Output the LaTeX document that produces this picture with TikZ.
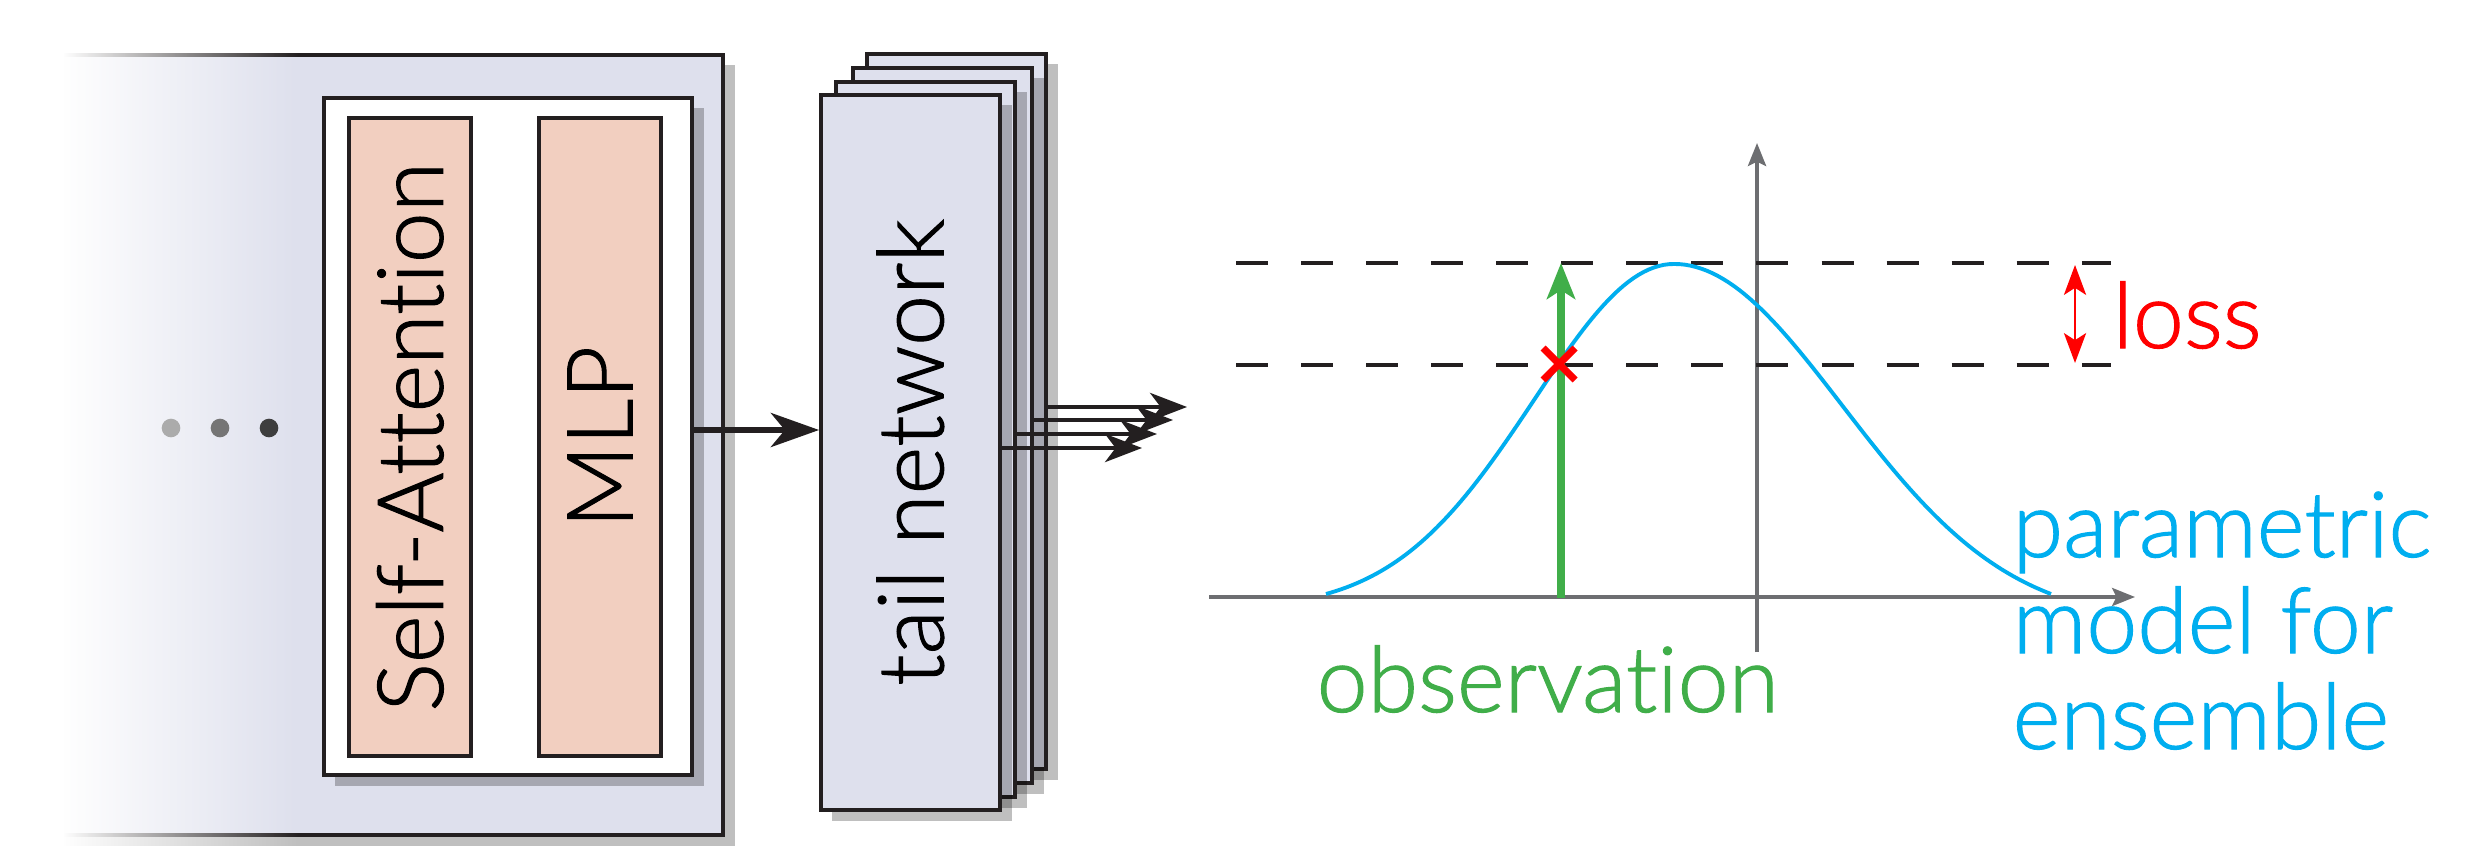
\documentclass[tikz,border=0pt]{standalone}
\usepackage{fontspec}
\IfFontExistsTF{Lato Light}{\setmainfont{Lato Light}[Ligatures=NoCommon, FakeBold=1.2]}{\setmainfont{Lato}[Ligatures=NoCommon]}
\usetikzlibrary{arrows.meta,shadows,fadings,calc}
\definecolor{lav}{RGB}{222,224,237}
\definecolor{salmon}{RGB}{242,207,192}
\definecolor{ink}{RGB}{35,31,32}
\definecolor{axisgray}{RGB}{109,110,113}
\definecolor{cyanc}{RGB}{0,174,239}
\definecolor{greenc}{RGB}{64,174,73}
\definecolor{redc}{RGB}{255,0,0}
\definecolor{dotA}{RGB}{171,171,171}
\definecolor{dotB}{RGB}{117,117,117}
\definecolor{dotC}{RGB}{62,62,62}
\begin{document}
\begin{tikzpicture}[x=0.01cm,y=-0.01cm,
  box/.style={draw=ink, line width=1.05pt, inner sep=0pt, anchor=north west},
  shadowed/.style={drop shadow={shadow xshift=3.3pt, shadow yshift=-3.0pt, fill=black, opacity=0.25}},
  lbl/.style={inner sep=0pt, font=\fontsize{26}{30}\selectfont},
  dotnode/.style={circle, inner sep=0pt, minimum size=0.186cm},
  bigarrow/.style={ink, line width=1.5pt, -{Stealth[length=13.7pt, width=9.7pt, inset=4pt]}},
  tailarrow/.style={ink, line width=1.2pt, -{Stealth[length=10.5pt, width=8pt, inset=3pt]}},
  axisline/.style={axisgray, line width=1.15pt, -{Stealth[length=6.5pt, width=5.1pt, inset=1.2pt]}},
  dashline/.style={ink, line width=1pt, dash pattern=on 9.1pt off 9.4pt},
  curveline/.style={cyanc, line width=1.1pt},
  obsarrow/.style={greenc, line width=2.3pt, -{Stealth[length=10.2pt, width=8pt, inset=2.5pt]}},
  crossline/.style={redc, line width=2pt},
  lossarrow/.style={redc, line width=0.65pt, {Stealth[length=8.5pt, width=6.3pt, inset=2pt]}-{Stealth[length=8.5pt, width=6.3pt, inset=2pt]}}
]
\useasboundingbox[fill=white] (0,0) rectangle (2486,846);

% outer transformer block
\node[box, fill=lav, shadowed, minimum width=6.81cm, minimum height=7.80cm] (outer) at (40,53) {};
\fill[white] (-10,20) rectangle (64,846);
\fill[white, path fading=east] (63,20) rectangle (298,846);
\node[dotnode, fill=dotA] (dot1) at (171,428) {};
\node[dotnode, fill=dotB] (dot2) at (220,428) {};
\node[dotnode, fill=dotC] (dot3) at (269,428) {};

% inner block
\node[box, fill=white, shadowed, minimum width=3.68cm, minimum height=6.77cm] (inner) at (322,96) {};
\node[box, fill=salmon, minimum width=1.22cm, minimum height=6.38cm] (sa) at (347,116) {};
\node[box, fill=salmon, minimum width=1.22cm, minimum height=6.38cm] (mlp) at (537,116) {};
\node[lbl, rotate=90] (satext) at (sa.center) {Self-Attention};
\node[lbl, rotate=90] (mlptext) at (mlp.center) {MLP};

% tail network stack
\node[box, fill=lav, shadowed, minimum width=1.79cm, minimum height=7.15cm] (t4) at (865,52) {};
\node[box, fill=lav, shadowed, minimum width=1.79cm, minimum height=7.15cm] (t3) at (851,66) {};
\node[box, fill=lav, shadowed, minimum width=1.79cm, minimum height=7.15cm] (t2) at (834,80) {};
\node[box, fill=lav, shadowed, minimum width=1.79cm, minimum height=7.15cm] (t1) at (819,93) {};
\node[lbl, rotate=90] (tailtext) at (t1.center) {tail network};

% arrows
\coordinate (ar) at (0,430);
\draw[bigarrow] (inner.east |- ar) -- (t1.west |- ar);
\coordinate (e1) at (1187,407);
\coordinate (e2) at (1173,420);
\coordinate (e3) at (1157,434);
\coordinate (e4) at (1142,448);
\draw[tailarrow] (t4.east |- e1) -- (e1);
\draw[tailarrow] (t3.east |- e2) -- (e2);
\draw[tailarrow] (t2.east |- e3) -- (e3);
\draw[tailarrow] (t1.east |- e4) -- (e4);

% plot
\coordinate (xs) at (1209,597);
\coordinate (xe) at (2135,597);
\coordinate (ys) at (1757,652);
\coordinate (ye) at (1757,143);
\draw[axisline] (xs) -- (xe);
\draw[axisline] (ys) -- (ye);
\coordinate (da) at (1236,263);
\coordinate (db) at (2111,263);
\coordinate (dc) at (1236,365);
\coordinate (dd) at (2111,365);
\draw[dashline] (da) -- (db);
\draw[dashline] (dc) -- (dd);
\draw[curveline] plot[domain=-348:0, samples=70] ({1674+\x}, {594-330*(exp(-0.5*(\x/140)^2)-0.0455)/0.9545})
  -- plot[domain=0:377, samples=70] ({1674+\x}, {594-330*(exp(-0.5*(\x/168)^2)-0.0806)/0.9194});
\coordinate (gb) at (1561,598);
\coordinate (gt) at (1561,263);
\draw[obsarrow] (gb) -- (gt);
\coordinate (xc) at (1559,364);
\draw[crossline] ($(xc)+(-16,-16)$) -- ($(xc)+(16,16)$);
\draw[crossline] ($(xc)+(-16,16)$) -- ($(xc)+(16,-16)$);
\coordinate (la) at (2075,265);
\coordinate (lb) at (2075,363);
\draw[lossarrow] (la) -- (lb);

% labels
\node[lbl, anchor=base west, text=redc] (losstext) at (2112,348) {loss};
\node[lbl, anchor=base west, text=greenc] (obstext) at (1316,712) {observation};
\node[lbl, anchor=base west, text=cyanc] (par1) at (2012,557) {parametric};
\node[lbl, anchor=base west, text=cyanc] (par2) at (2012,653) {model for};
\node[lbl, anchor=base west, text=cyanc] (par3) at (2012,749) {ensemble};
\end{tikzpicture}
\end{document}
